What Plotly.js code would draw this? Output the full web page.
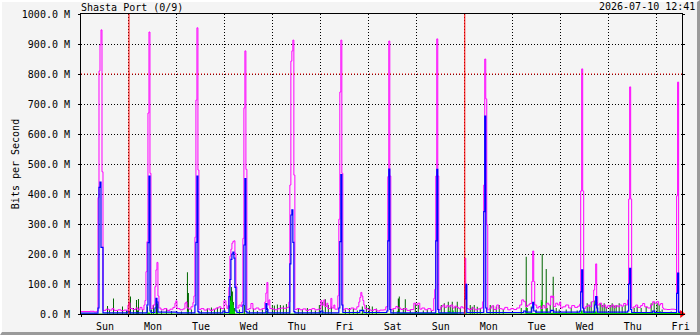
<!DOCTYPE html>
<html>
<head>
<meta charset="utf-8">
<script src="https://cdn.plot.ly/plotly-3.0.1.min.js"></script>
<style>
  html, body { margin: 0; padding: 0; background: #f4f4f4; }
  #wrap { position: relative; width: 700px; height: 335px; }
  #chart { width: 700px; height: 335px; }
  #frame { position: absolute; left: 0; top: 0; width: 700px; height: 335px; box-sizing: border-box;
           border-right: 3px solid #9a9a9a; border-bottom: 3px solid #9a9a9a;
           border-top: 2px solid #ffffff; border-left: 2px solid #ffffff; pointer-events: none; }
</style>
</head>
<body>
<div id="wrap"><div id="chart"></div><div id="frame"></div></div>
<script>
// ---- data: [slot, value in M bits/s]; one slot = 30 minutes from Sun 2026-06-28 00:00 ----
const chartTitle = 'Shasta Port (0/9)';
const stampText = '2026-07-10 12:41';
const yTitle = 'Bits per Second';
const weekStarts = [Date.UTC(2026, 5, 29), Date.UTC(2026, 6, 6)];
const thresholds = [800];

// outbound maximum (magenta line)
const outMax = [
 [0,8],[9,9],[13,7],[16,10],[17,388],[18,810],[19,897],[20,947],[21,474],[22,12],[25,16],[28,13],[31,18],[33,12],[37,14],[40,11],[43,13],[46,10],
 [47,30],[48,38],[49,18],[52,15],[55,20],[57,14],[59,22],[61,14],[63,30],[64,45],[65,141],[66,241],[67,670],[68,940],[69,469],[70,18],[72,30],[74,91],[75,147],[76,172],[77,60],[78,20],[80,14],[83,18],[86,12],[89,16],[92,22],[94,36],[95,44],[96,18],
 [99,14],[102,17],[104,36],[105,40],[106,20],[108,16],[110,24],[112,38],[113,60],[114,256],[115,713],[116,954],[117,480],[118,15],[120,18],[123,13],[126,17],[129,12],[132,16],[135,20],[138,24],[140,18],[143,44],[145,30],[146,18],[147,25],
 [148,89],[149,193],[150,216],[151,236],[152,242],[153,244],[154,202],[155,91],[156,20],[158,30],[160,25],[161,40],[162,252],[163,687],[164,877],[165,482],[166,15],[168,18],[170,35],[172,16],[175,20],[178,14],[181,18],[184,40],[185,70],[186,105],[187,30],[188,47],[189,18],[192,16],
 [194,14],[197,18],[200,20],[203,19],[206,22],[208,40],[209,430],[210,843],[211,877],[212,913],[213,463],[214,15],[216,18],[219,14],[222,17],[225,12],[228,15],[231,18],[234,14],[237,16],
 [240,45],[241,30],[243,47],[244,25],[246,36],[247,18],[250,52],[251,20],[253,30],[254,16],
 [257,61],[258,316],[259,740],[260,913],[261,469],[262,14],[264,18],[267,15],[270,20],[273,16],[276,24],[278,40],[279,55],[280,72],[281,60],[282,45],[283,30],[284,18],[287,14],
 [290,12],[293,15],[296,10],[299,13],[303,14],[305,24],[307,458],[308,910],[309,460],[310,14],[312,18],[315,25],[317,20],[320,15],[323,18],[326,12],[330,15],[333,36],[335,30],[337,36],[339,16],[341,20],
 [344,14],[347,18],[350,12],[353,52],[354,82],[355,460],[356,917],[357,460],[358,14],[360,24],[362,30],[364,22],[366,28],[368,24],[370,30],[372,20],[374,26],[376,22],[378,18],[380,24],[382,20],
 [384,186],[385,99],[386,18],[388,15],[391,20],[394,14],[397,17],[400,20],[402,41],[403,430],[404,850],[405,717],[406,297],[407,14],[409,20],[411,27],[413,15],[416,30],[418,18],[421,16],[424,22],[427,14],[430,18],
 [433,15],[436,20],[439,30],[441,47],[443,41],[445,25],[447,30],[449,35],[451,108],[452,210],[453,108],[454,30],[456,20],[458,25],[460,18],[462,28],[464,20],[466,36],[468,30],[470,60],[471,55],[472,60],[473,25],[475,36],[477,30],[479,40],[480,20],
 [482,24],[485,30],[488,20],[491,28],[494,22],[497,26],[499,33],[500,410],[501,817],[502,410],[503,18],[505,25],[507,30],[509,24],[511,41],[513,80],[514,97],[515,167],[516,58],[517,30],[519,36],[521,24],[523,30],[525,20],[527,28],
 [529,24],[531,30],[533,22],[535,28],[537,24],[539,30],[541,26],[543,35],[545,30],[547,47],[548,383],[549,757],[550,383],[551,20],[553,24],[555,30],[557,22],[560,28],[562,35],[564,24],[567,20],[570,30],[572,41],[574,36],[576,41],[578,30],[580,35],[582,20],
 [583,16],[586,15],[590,16],[594,15],[596,394],[597,773],[598,8],[601,8]
];

// outbound average (blue line)
const outAvg = [
 [0,3],[17,20],[18,422],[19,440],[20,222],[22,4],[47,8],[49,4],[66,30],[67,238],[68,460],[69,10],[70,5],[74,20],[75,52],[76,40],[77,6],[96,4],
 [114,30],[115,239],[116,460],[117,8],[118,4],[142,10],[144,5],[148,58],[149,115],[150,182],[151,200],[152,206],[153,186],[154,89],[155,10],[156,5],
 [162,30],[163,230],[164,451],[165,8],[166,4],[185,35],[186,15],[187,4],[209,167],[210,330],[211,347],[212,239],[213,8],[214,4],[240,10],[242,4],
 [258,20],[259,241],[260,465],[261,30],[262,5],[279,12],[283,5],[306,10],[307,244],[308,483],[309,15],[310,4],[355,244],[356,482],[357,15],[358,4],
 [384,50],[385,99],[386,5],[403,341],[404,660],[405,20],[406,5],[443,10],[445,6],[451,20],[452,39],[453,10],[455,6],[470,12],[473,6],
 [499,10],[500,74],[501,147],[502,20],[503,6],[514,30],[515,58],[516,20],[517,6],[547,10],[548,100],[549,152],[550,15],[551,5],[572,10],[574,5],
 [596,69],[597,136],[598,5],[601,5]
];

// inbound maximum (dark green area)
const inMax = [
 [0,0],[26,27],[27,0],[28,14],[29,0],[32,52],[33,0],[36,10],[37,0],[41,25],[42,0],[45,12],[46,0],
 [49,58],[50,0],[52,20],[53,0],[55,47],[56,12],[57,50],[58,0],[61,15],[62,0],[66,25],[67,0],[70,15],[71,0],[72,30],[73,0],[75,45],[76,35],[77,0],[80,12],[81,0],[85,18],[86,0],[90,10],[91,0],
 [100,8],[101,0],[106,139],[107,70],[108,0],[110,15],[111,0],[120,12],[121,0],[126,18],[127,0],[130,22],[131,0],[133,15],[134,0],[136,22],[137,0],[139,20],[140,0],
 [143,20],[144,0],[148,30],[149,60],[150,90],[151,75],[152,40],[153,20],[154,0],[158,15],[159,0],[163,30],[164,0],[168,12],[169,0],[172,18],[173,0],[176,10],[177,0],[181,15],[182,0],[186,20],[187,0],
 [191,30],[192,0],[193,28],[194,0],[196,32],[197,0],[199,30],[200,0],[202,28],[203,0],[205,33],[206,0],[208,25],[209,0],
 [217,20],[218,0],[221,15],[222,0],[226,20],[227,0],[230,15],[231,0],[234,12],[235,0],[238,30],[239,0],[241,40],[242,0],[244,49],[245,0],[247,30],[248,0],[250,25],[251,0],
 [264,15],[265,0],[268,20],[269,0],[272,18],[273,0],[276,12],[277,0],[281,25],[282,0],[285,30],[286,0],[288,27],[289,0],[291,25],[292,0],[295,18],[296,0],
 [312,15],[313,0],[317,52],[318,58],[319,0],[322,20],[323,0],[324,49],[325,0],[329,15],[330,0],[334,36],[335,0],[337,30],[338,0],
 [342,12],[343,0],[346,15],[347,0],[350,10],[351,0],[360,30],[361,0],[363,36],[364,0],[367,41],[368,0],[369,30],[370,0],[371,41],[372,0],[374,25],[375,0],[376,41],[377,0],[379,20],[380,0],
 [389,30],[390,0],[391,24],[392,0],[393,30],[394,0],[396,24],[397,0],[399,20],[400,0],[409,30],[410,0],[412,28],[413,0],[415,25],[416,0],[418,30],[419,0],[422,15],[423,0],
 [440,20],[441,0],[445,191],[446,20],[447,0],[450,25],[451,0],[455,15],[456,0],[460,30],[461,200],[462,0],[465,150],[466,20],[467,0],[469,30],[470,0],[472,124],[473,0],[475,20],[476,0],[478,15],[479,0],
 [485,15],[486,0],[490,20],[491,0],[496,12],[497,0],[503,15],[504,0],[506,36],[507,0],[508,30],[509,0],[510,41],[511,0],[513,45],[514,0],[516,40],[517,0],[519,36],[520,0],[521,30],[522,0],[523,36],[524,0],[525,24],[526,0],
 [529,30],[530,0],[531,36],[532,0],[533,28],[534,0],[535,30],[536,0],[538,36],[539,0],[541,25],[542,0],[544,30],[545,0],[553,20],[554,0],[556,24],[557,0],[560,20],[561,0],[565,24],[566,0],[570,36],[571,0],[573,40],[574,0],[576,36],[577,0],[578,30],[579,0],[581,15],[582,0],[590,8],[591,0],[601,0]
];

// inbound average (light green area)
const inAvg = [
 [0,2],[28,6],[29,2],[48,8],[49,2],[66,5],[69,2],[106,10],[107,2],[148,20],[149,45],[150,60],[151,40],[152,30],[153,10],[154,2],[185,10],[186,2],
 [241,12],[242,2],[316,10],[317,3],[367,10],[369,3],[371,12],[373,3],[376,10],[377,2],[385,15],[386,2],[445,20],[446,3],[460,47],[461,40],[462,3],
 [465,44],[466,3],[500,12],[502,3],[512,12],[514,8],[516,3],[579,10],[580,3],[601,2]
];

// ---- build ----
const T0 = Date.UTC(2026, 5, 28, 0, 0);
const SLOT_MS = 30 * 60 * 1000;
const xEnd = Date.UTC(2026, 6, 10, 12, 41);
const sx = a => a.map(p => T0 + p[0] * SLOT_MS);
const sy = a => a.map(p => p[1]);
const FONT = 'DejaVu Sans Mono, monospace';

const traces = [
  { x: sx(inMax), y: sy(inMax), type: 'scatter', mode: 'lines', line: { shape: 'hv', width: 0, color: '#006600' },
    fill: 'tozeroy', fillcolor: '#006600', hoverinfo: 'skip' },
  { x: sx(inAvg), y: sy(inAvg), type: 'scatter', mode: 'lines', line: { shape: 'hv', width: 0, color: '#00cc00' },
    fill: 'tozeroy', fillcolor: '#00cc00', hoverinfo: 'skip' },
  { x: sx(outMax), y: sy(outMax), type: 'scatter', mode: 'lines', line: { shape: 'hv', width: 1, color: '#ff00ff' }, hoverinfo: 'skip' },
  { x: sx(outAvg), y: sy(outAvg), type: 'scatter', mode: 'lines', line: { shape: 'hv', width: 1.2, color: '#0000ff' }, hoverinfo: 'skip' },
  { x: [xEnd], y: [0], type: 'scatter', mode: 'markers', marker: { symbol: 'triangle-right', size: 7, color: '#ff0000' },
    cliponaxis: false, hoverinfo: 'skip' }
];

const shapes = [];
weekStarts.forEach(t => shapes.push({ type: 'line', xref: 'x', yref: 'paper', x0: t, x1: t, y0: 0, y1: 1,
  line: { color: '#ff0000', width: 1 }, layer: 'above' }));
thresholds.forEach(v => shapes.push({ type: 'line', xref: 'paper', yref: 'y', x0: 0, x1: 1, y0: v, y1: v,
  line: { color: '#ff0000', width: 1, dash: '1px,2px' }, layer: 'above' }));

const layout = {
  width: 700, height: 335,
  margin: { l: 81, r: 18, t: 14, b: 21 },
  paper_bgcolor: '#f4f4f4', plot_bgcolor: '#f4f4f4',
  showlegend: false,
  font: { family: FONT, size: 10, color: '#000' },
  title: { text: chartTitle, font: { family: FONT, size: 10, color: '#000' },
           xref: 'container', x: 81 / 700, xanchor: 'left', yref: 'container', y: 1 - 7 / 335, yanchor: 'middle' },
  xaxis: {
    type: 'date', range: [T0, xEnd], tickformat: '%a',
    tick0: T0 + 12 * 3600000, dtick: 86400000, ticks: '', showgrid: false, zeroline: false,
    showline: true, linecolor: '#000', linewidth: 1, mirror: true,
    ticklabelstandoff: 3,
    tickfont: { family: FONT, size: 10, color: '#000' },
    minor: { tick0: T0, dtick: 86400000, showgrid: true, gridcolor: '#000', griddash: '1px,2px', gridwidth: 1,
             ticks: 'outside', ticklen: 2, tickcolor: '#000' }
  },
  yaxis: {
    range: [0, 1000], tick0: 0, dtick: 100, tickformat: '.1f', ticksuffix: ' M',
    showgrid: true, gridcolor: '#000', griddash: '1px,2px', gridwidth: 1, zeroline: false,
    showline: true, linecolor: '#000', linewidth: 1, mirror: 'ticks',
    ticks: 'outside', ticklen: 2, tickcolor: '#000', ticklabelstandoff: 6,
    tickfont: { family: FONT, size: 10, color: '#000' },
    title: { text: yTitle, font: { family: FONT, size: 10, color: '#000' }, standoff: 0 }
  },
  shapes: shapes,
  annotations: [
    { text: stampText, xref: 'paper', yref: 'paper', x: (697 - 81) / 601, y: (314 - 7) / 300,
      xanchor: 'right', yanchor: 'middle', showarrow: false, font: { family: FONT, size: 10, color: '#000' } }
  ]
};

Plotly.newPlot('chart', traces, layout, { staticPlot: true, displayModeBar: false });
</script>
</body>
</html>
